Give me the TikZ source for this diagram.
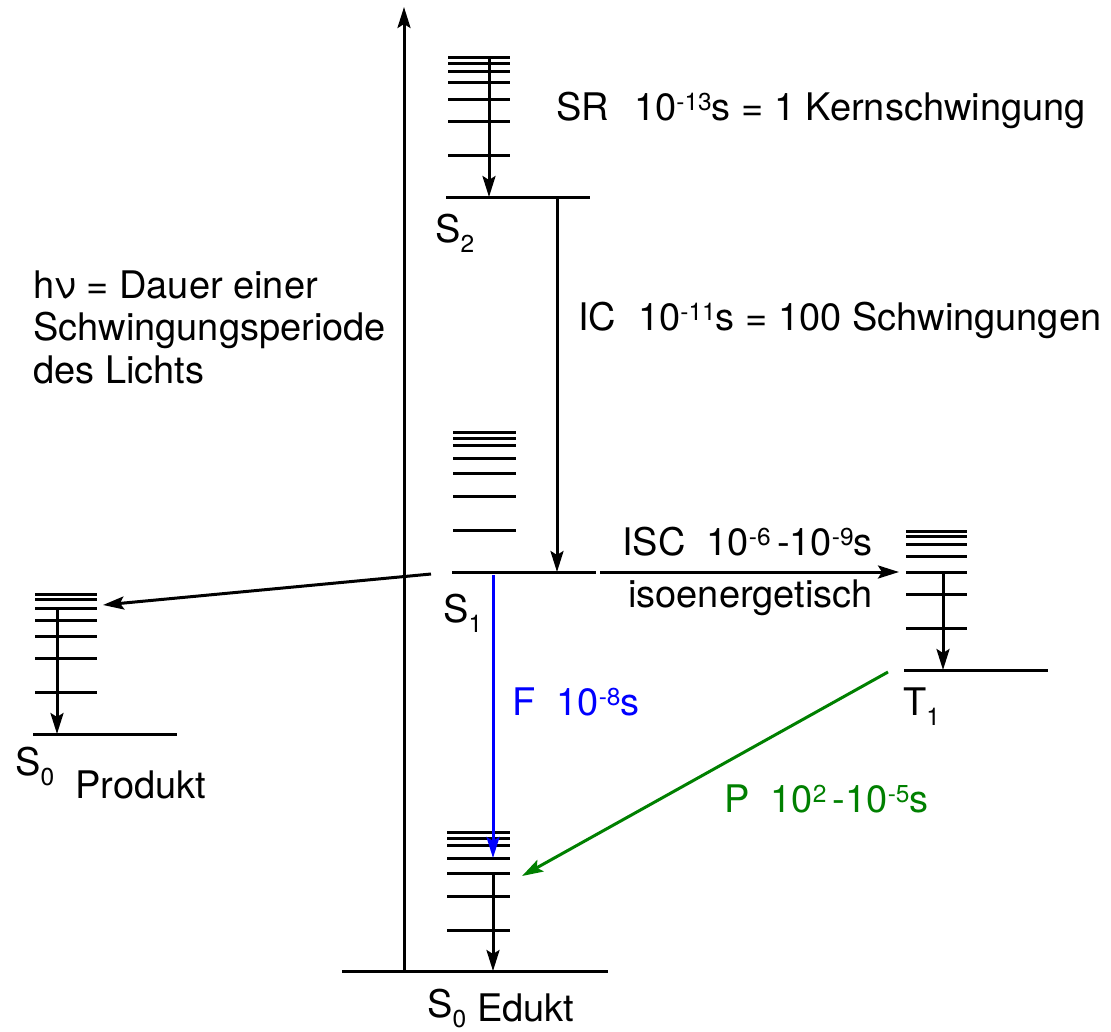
\documentclass[tikz,border=0pt]{standalone}
\usepackage{fontspec}
\setmainfont{TeX Gyre Heros}
\usetikzlibrary{arrows.meta}
\newcommand{\supx}[1]{\raisebox{10pt}{\fontsize{24.5}{24.5}\selectfont #1}}
\newcommand{\subx}[1]{\raisebox{-10pt}{\fontsize{24.5}{24.5}\selectfont #1}}
\definecolor{pgreen}{RGB}{0,128,0}
\tikzset{
  lvl/.style={line width=3pt},
  arr/.style={line width=3pt,-{Stealth[length=21pt,width=13pt,inset=4pt]}},
  txt/.style={anchor=base west,inner sep=0pt,font=\fontsize{38}{45}\selectfont},
}
\begin{document}
\begin{tikzpicture}[x=1pt,y=-1pt]
\useasboundingbox (0,0) rectangle (1111,1031);
% main energy axis
\coordinate (axb) at (404,971);
\coordinate (axt) at (404,7);
\draw[arr] (axb) -- (axt);
% S0 Edukt
\coordinate (e1) at (342,971); \coordinate (e2) at (608,971);
\draw[lvl] (e1) -- (e2);
\foreach \y in {832,838,845,858,873,896,930} \draw[lvl] (447,\y) -- (510,\y);
\coordinate (ea) at (493,873); \coordinate (eb) at (493,971);
\draw[arr] (ea) -- (eb);
% S2
\coordinate (s2a) at (446,197); \coordinate (s2b) at (590,197);
\draw[lvl] (s2a) -- (s2b);
\foreach \y in {57,63,71,82,99,121,155} \draw[lvl] (448,\y) -- (510,\y);
\coordinate (sra) at (489,57); \coordinate (srb) at (489,197);
\draw[arr] (sra) -- (srb);
% IC
\coordinate (ica) at (557,198); \coordinate (icb) at (557,572);
\draw[arr] (ica) -- (icb);
% S1
\coordinate (s1a) at (452,572); \coordinate (s1b) at (596,572);
\draw[lvl] (s1a) -- (s1b);
\foreach \y in {432,438,445,458,473,496,530} \draw[lvl] (453,\y) -- (516,\y);
% S1 -> product
\coordinate (pa) at (431,574); \coordinate (pb) at (103,605);
\draw[arr] (pa) -- (pb);
% product S0
\coordinate (p1) at (33,734); \coordinate (p2) at (177,734);
\draw[lvl] (p1) -- (p2);
\foreach \y in {594,599,608,620,636,658,692} \draw[lvl] (35,\y) -- (97,\y);
\coordinate (pva) at (57,608); \coordinate (pvb) at (57,734);
\draw[arr] (pva) -- (pvb);
% ISC
\coordinate (isa) at (600,572); \coordinate (isb) at (899,572);
\draw[arr] (isa) -- (isb);
% T1
\coordinate (t1a) at (904,670); \coordinate (t1b) at (1048,670);
\draw[lvl] (t1a) -- (t1b);
\foreach \y in {531,536,544,556,572,594,628} \draw[lvl] (906,\y) -- (967,\y);
\coordinate (tva) at (943,572); \coordinate (tvb) at (943,670);
\draw[arr] (tva) -- (tvb);
% Fluorescence
\coordinate (fa) at (493,575); \coordinate (fb) at (493,858);
\draw[arr,blue] (fa) -- (fb);
% Phosphorescence
\coordinate (ga) at (888,672); \coordinate (gb) at (522,876);
\draw[arr,pgreen] (ga) -- (gb);
% labels
\node[txt] (lsr) at (556,120) {SR};
\node[txt] (lsrt) at (634,120) {10\supx{-13}s = 1 Kernschwingung};
\node[txt] (lic) at (578,330) {IC};
\node[txt] (lict) at (638,330) {10\supx{-11}s = 100 Schwingungen};
\node[txt] (lisc) at (622,555) {ISC\ \ 10\supx{-6}\,-10\supx{-9}s};
\node[txt] (liso) at (628,607) {isoenergetisch};
\node[txt] (lh1) at (33,298) {hν = Dauer einer};
\node[txt] (lh2) at (33,340) {Schwingungsperiode};
\node[txt] (lh3) at (33,383) {des Lichts};
\node[txt] (ls2) at (435,242) {S\subx{2}};
\node[txt] (ls1) at (443,622) {S\subx{1}};
\node[txt] (lt1) at (903,715) {T\subx{1}};
\node[txt] (lsp) at (15,775) {S\subx{0}};
\node[txt] (lprod) at (75,798) {Produkt};
\node[txt] (lse) at (427,1017) {S\subx{0}};
\node[txt] (led) at (477,1021) {Edukt};
\node[txt,blue] (lf) at (512,715) {F\ \ 10\supx{-8}s};
\node[txt,pgreen] (lp) at (724,812) {P\ \ 10\supx{2}\,-10\supx{-5}s};
\end{tikzpicture}
\end{document}
